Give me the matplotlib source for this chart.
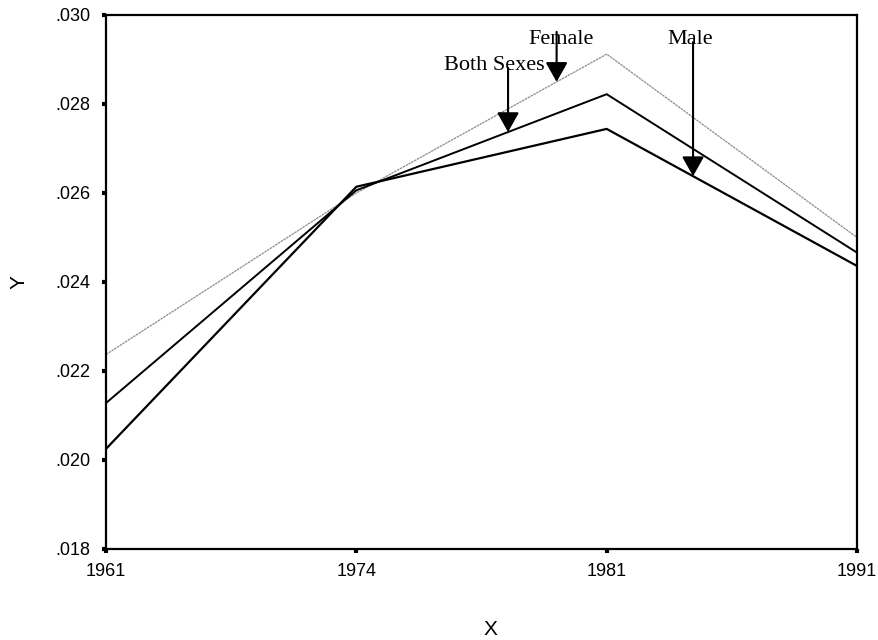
import numpy as np
import matplotlib
matplotlib.use('Agg')
import matplotlib.pyplot as plt
from matplotlib.ticker import FuncFormatter

years = ['1961', '1974', '1981', '1991']
female = [0.02237, 0.02600, 0.02912, 0.02500]
both_sexes = [0.02128, 0.02606, 0.02822, 0.02466]
male = [0.02025, 0.02614, 0.02744, 0.02436]

y_ticks = [0.018, 0.020, 0.022, 0.024, 0.026, 0.028, 0.030]

plt.rcParams['font.family'] = ['Liberation Sans', 'DejaVu Sans']

fig = plt.figure(figsize=(8.79, 6.4), dpi=100)
ax = fig.add_axes([0.1206, 0.1422, 0.8544, 0.8344])

x = np.arange(len(years))
ax.plot(x, female, color='#8c8c8c', lw=0.9, linestyle=(0, (2, 0.6)))
ax.plot(x, both_sexes, color='black', lw=1.4)
ax.plot(x, male, color='black', lw=1.6)

ax.set_xlim(0, len(years) - 1)
ax.set_ylim(0.018, 0.030)
ax.set_xticks(x)
ax.set_xticklabels(years)
ax.set_yticks(y_ticks)
ax.yaxis.set_major_formatter(FuncFormatter(lambda v, p: ('%.3f' % v).lstrip('0')))
ax.tick_params(axis='both', direction='out', length=3, width=3,
               labelsize=13, colors='black')
ax.tick_params(axis='y', pad=8)
ax.tick_params(axis='x', pad=7)
for s in ax.spines.values():
    s.set_linewidth(1.6)
    s.set_color('black')

ax.set_xlabel('X', fontsize=15)
ax.set_ylabel('Y', fontsize=15)
ax.xaxis.set_label_coords(0.512, -0.133)
ax.yaxis.set_label_coords(-0.103, 0.5)


# arrow labels: tip sits on the line at a fractional category position
def on_line(vals, pos):
    return np.interp(pos, x, vals)


labels = [
    # text, series, tip position, tail value, text x, text baseline
    ('Female', female, 1.80, 0.02962, 1.818, 0.02935),
    ('Both Sexes', both_sexes, 1.606, 0.02881, 1.55, 0.02876),
    ('Male', male, 2.345, 0.02939, 2.333, 0.02935),
]
for txt, vals, pos, tail, tx, ty in labels:
    ax.text(tx, ty, txt, ha='center', va='baseline', fontsize=16,
            family=['Liberation Serif', 'DejaVu Serif'])
    ax.annotate('', xy=(pos, on_line(vals, pos)), xytext=(pos, tail),
                arrowprops=dict(arrowstyle='-|>,head_length=0.8,head_width=0.45',
                                color='black', lw=1.5, mutation_scale=15,
                                shrinkA=0, shrinkB=0))

fig.savefig('out.png', dpi=100)
